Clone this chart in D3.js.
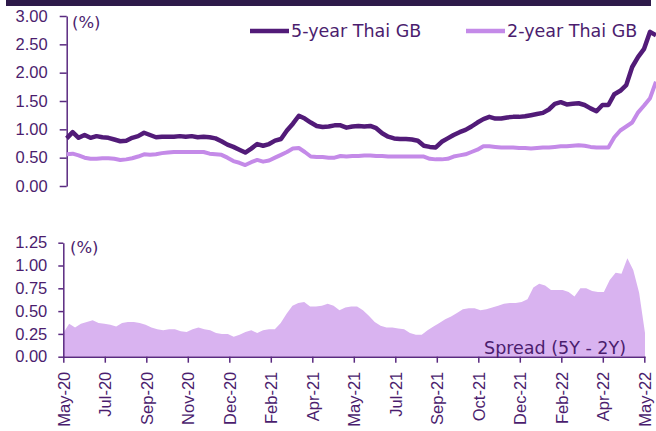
<!DOCTYPE html>
<html>
<head>
<meta charset="utf-8">
<script src="https://cdn.jsdelivr.net/npm/d3@7"></script>
<style>
  body { margin: 0; background: #fff; }
  svg { display: block; font-family: "DejaVu Sans", Verdana, sans-serif; }
</style>
</head>
<body>
<script>
// Thai government bond yields, roughly weekly points, May-20 .. May-22
const w = 656;
const h = 431;

const yield5Y = [
  0.84, 0.95, 0.85, 0.90, 0.85, 0.88, 0.86, 0.85, 0.82, 0.79,
  0.80, 0.85, 0.88, 0.94, 0.90, 0.86, 0.87, 0.87, 0.87, 0.88,
  0.87, 0.88, 0.86, 0.87, 0.86, 0.84, 0.79, 0.73, 0.69, 0.64,
  0.59, 0.66, 0.74, 0.71, 0.74, 0.80, 0.83, 0.98, 1.10, 1.24,
  1.19, 1.12, 1.06, 1.04, 1.05, 1.07, 1.07, 1.03, 1.05, 1.06,
  1.05, 1.06, 1.02, 0.93, 0.87, 0.84, 0.83, 0.83, 0.82, 0.80,
  0.71, 0.69, 0.68, 0.78, 0.84, 0.90, 0.95, 0.99, 1.05, 1.12,
  1.18, 1.22, 1.19, 1.19, 1.21, 1.22, 1.22, 1.23, 1.25, 1.27,
  1.29, 1.35, 1.45, 1.48, 1.44, 1.45, 1.46, 1.43, 1.37, 1.32,
  1.43, 1.43, 1.62, 1.68, 1.78, 2.10, 2.28, 2.42, 2.72, 2.66
];

const yield2Y = [
  0.56, 0.57, 0.54, 0.50, 0.48, 0.48, 0.49, 0.49, 0.48, 0.46,
  0.47, 0.49, 0.52, 0.56, 0.55, 0.56, 0.58, 0.59, 0.60, 0.60,
  0.60, 0.60, 0.60, 0.60, 0.57, 0.56, 0.55, 0.50, 0.44, 0.41,
  0.37, 0.42, 0.46, 0.43, 0.45, 0.50, 0.55, 0.60, 0.66, 0.67,
  0.60, 0.52, 0.51, 0.51, 0.50, 0.50, 0.53, 0.52, 0.53, 0.53,
  0.54, 0.54, 0.53, 0.53, 0.52, 0.52, 0.52, 0.52, 0.52, 0.52,
  0.52, 0.48, 0.47, 0.47, 0.48, 0.52, 0.54, 0.56, 0.60, 0.64,
  0.70, 0.70, 0.69, 0.68, 0.68, 0.68, 0.67, 0.67, 0.66, 0.67,
  0.68, 0.68, 0.69, 0.70, 0.70, 0.71, 0.72, 0.71, 0.69, 0.68,
  0.68, 0.68, 0.86, 0.98, 1.05, 1.12, 1.30, 1.42, 1.55, 1.84
];

const spread = [
  0.26, 0.36, 0.32, 0.36, 0.38, 0.40, 0.37, 0.36, 0.35, 0.33,
  0.37, 0.38, 0.38, 0.37, 0.35, 0.32, 0.30, 0.29, 0.30, 0.30,
  0.28, 0.27, 0.30, 0.32, 0.30, 0.29, 0.26, 0.25, 0.25, 0.22,
  0.24, 0.27, 0.29, 0.26, 0.29, 0.30, 0.30, 0.37, 0.47, 0.56,
  0.59, 0.60, 0.55, 0.55, 0.56, 0.58, 0.56, 0.51, 0.54, 0.55,
  0.55, 0.51, 0.45, 0.38, 0.34, 0.32, 0.32, 0.31, 0.30, 0.26,
  0.24, 0.24, 0.29, 0.33, 0.37, 0.41, 0.44, 0.48, 0.52, 0.53,
  0.53, 0.51, 0.52, 0.54, 0.56, 0.58, 0.59, 0.59, 0.60, 0.63,
  0.76, 0.80, 0.78, 0.73, 0.73, 0.73, 0.71, 0.66, 0.75, 0.75,
  0.72, 0.71, 0.71, 0.84, 0.92, 0.91, 1.08, 0.95, 0.70, 0.26
];

const monthLabels = [
  'May-20', 'Jul-20', 'Sep-20', 'Nov-20', 'Dec-20', 'Feb-21', 'Apr-21', 'May-21',
  'Jul-21', 'Sep-21', 'Oct-21', 'Dec-21', 'Feb-22', 'Apr-22', 'May-22'
];
const topTicks = [0, 0.5, 1, 1.5, 2, 2.5, 3];
const bottomTicks = [0, 0.25, 0.5, 0.75, 1, 1.25];

const ink = '#4b1d6e';
const axisColor = '#5a2a80';
const col5Y = '#521b78';
const col2Y = '#c48ae8';
const colArea = '#d9b3f0';

let svg = d3.select('body').append('svg').attr('width', w).attr('height', h);

// top rule
svg.append('rect').attr('x', 6).attr('y', 0).attr('width', 645).attr('height', 6).attr('fill', '#2e1a4a');

// ---------- top panel ----------
let xTop = d3.scaleLinear().domain([0, yield5Y.length - 1]).range([66.7, 656]);
let yTop = d3.scaleLinear().domain([0, 3]).range([186, 16]);

svg.append('g')
  .attr('transform', 'translate(66.7,0)')
  .call(d3.axisLeft(yTop).tickValues(topTicks).tickFormat(d3.format('.2f')).tickSize(7).tickSizeOuter(0).tickPadding(12));

let lineTop = d3.line().x((d, i) => xTop(i)).y((d) => yTop(d));

svg.append('path').datum(yield2Y)
  .attr('d', lineTop).attr('fill', 'none').attr('stroke', col2Y)
  .attr('stroke-width', 4).attr('stroke-linejoin', 'round');

svg.append('path').datum(yield5Y)
  .attr('d', lineTop).attr('fill', 'none').attr('stroke', col5Y)
  .attr('stroke-width', 4.5).attr('stroke-linejoin', 'round');

svg.append('text').attr('x', 72).attr('y', 22).attr('dy', '0.35em').text('(%)');

// legend
let legend = [
  { name: '5-year Thai GB', color: col5Y, x: 250 },
  { name: '2-year Thai GB', color: col2Y, x: 466 }
];
legend.forEach((l) => {
  svg.append('line').attr('x1', l.x).attr('x2', l.x + 39).attr('y1', 31).attr('y2', 31)
    .attr('stroke', l.color).attr('stroke-width', 4.5);
  svg.append('text').attr('class', 'leg').attr('x', l.x + 41).attr('y', 31).attr('dy', '0.35em').text(l.name);
});

// ---------- bottom panel ----------
let xBot = d3.scaleLinear().domain([0, spread.length - 1]).range([63.3, 645]);
let yBot = d3.scaleLinear().domain([0, 1.25]).range([356.7, 242.7]);
let xLab = d3.scalePoint().domain(monthLabels).range([63.3, 644.3]);

let area = d3.area().x((d, i) => xBot(i)).y0(yBot(0)).y1((d) => yBot(d));
svg.append('path').datum(spread).attr('d', area).attr('fill', colArea);

svg.append('g')
  .attr('transform', 'translate(63.3,0)')
  .call(d3.axisLeft(yBot).tickValues(bottomTicks).tickFormat(d3.format('.2f')).tickSize(5).tickSizeOuter(0).tickPadding(11));

let gX = svg.append('g')
  .attr('transform', 'translate(0,356.7)')
  .call(d3.axisBottom(xLab).tickSize(6).tickSizeOuter(0));
gX.select('.domain').attr('d', 'M63.3,0.5H645.5');
gX.selectAll('.tick text')
  .attr('transform', 'rotate(-90)')
  .attr('text-anchor', 'end')
  .attr('x', -15)
  .attr('y', 0)
  .attr('dy', '0.36em');

svg.append('text').attr('x', 70).attr('y', 247).attr('dy', '0.35em').text('(%)');
svg.append('text').attr('class', 'leg').attr('x', 626).attr('y', 348).attr('dy', '0.35em')
  .attr('text-anchor', 'end').text('Spread (5Y - 2Y)');

// shared styling
svg.selectAll('.domain, .tick line').attr('stroke', axisColor).attr('stroke-width', 1.5);
svg.selectAll('text').attr('fill', ink).style('font-size', '16.5px');
svg.selectAll('.tick text').attr('font-family', null);
svg.selectAll('.leg').style('font-size', '17.5px');
</script>
</body>
</html>
